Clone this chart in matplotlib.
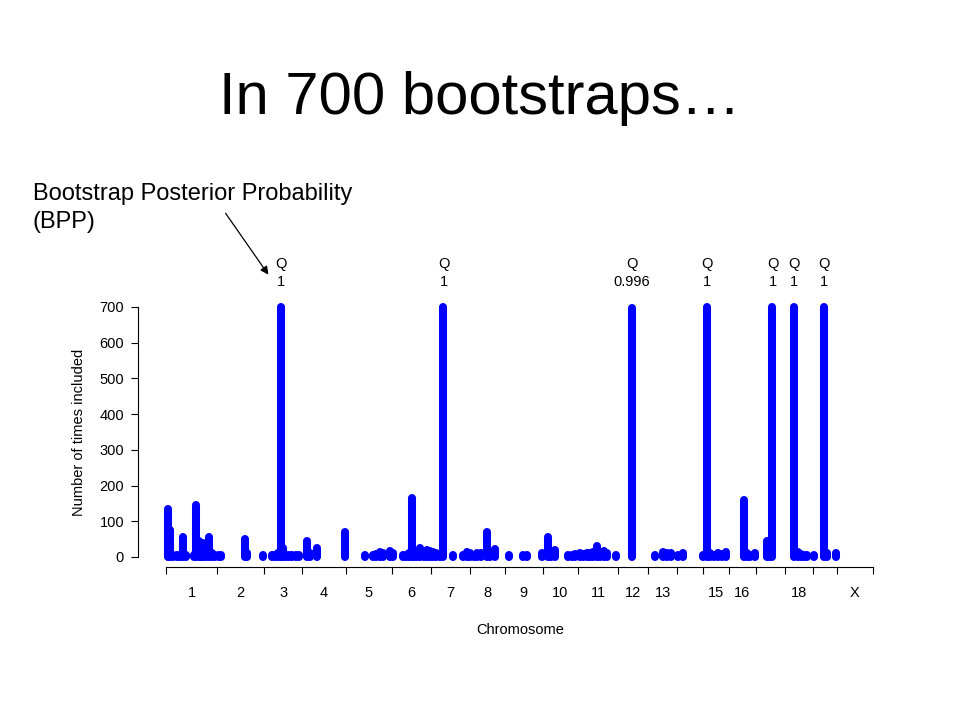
import numpy as np
import matplotlib
matplotlib.use('Agg')
import matplotlib.pyplot as plt

plt.rcParams['font.family'] = ['Liberation Sans', 'DejaVu Sans']

# chromosome lengths (cM) and labels
chrom_names = ['1', '2', '3', '4', '5', '6', '7', '8', '9', '10',
               '11', '12', '13', '14', '15', '16', '17', '18', '19', 'X']
chrom_len = [102, 93, 77, 86, 92, 79, 77, 70, 76, 70,
             81, 59, 58, 51, 53, 53, 58, 57, 47, 73]
# labels R dropped because they overlapped
hidden_labels = ['14', '17', '19']

# markers: chromosome index, position within chromosome (cM), times included
mk_chrom = [0] * 16 + [1] * 5 + [2] * 10 + [3] * 4 + [4] * 6 + [5] * 11 + [6] * 7 \
    + [7] * 7 + [8] * 4 + [9] * 6 + [10] * 10 + [11] + [12] * 4 + [13] * 2 \
    + [14] * 7 + [15] * 4 + [16] * 3 + [17] * 5 + [18] * 4
mk_pos = [2.6, 7.6, 12.6, 20.6, 26.6, 33.6, 38.6, 54.6, 60, 64.6, 68.6, 73.6, 78.6, 85.6, 90.6, 96.6,
          3.6, 7.6, 55.2, 59.6, 90.6,
          15.6, 21.6, 27.6, 34.6, 38.6, 43.6, 49.6, 55.6, 63.6, 69.6,
          8.6, 14.6, 28.6, 84.6,
          38.6, 54.6, 60.6, 68.6, 74.6, 88.6,
          2.6, 22.6, 28.6, 34.6, 40, 44.6, 50.6, 56.6, 64.6, 70.6, 76.6,
          3.6, 9.6, 17.6, 24.6, 42.6, 63.6, 71.6,
          0.6, 8.6, 14.6, 22.6, 34, 40.6, 50.6,
          8.6, 36.6, 44.6, 74,
          11.2, 16.6, 24.6, 50.6, 58.6, 64.6,
          4.6, 10.6, 18.6, 24.6, 30.6, 38, 44.6, 52.6, 58.6, 76,
          27,
          14.6, 30.6, 38.6, 46.6,
          2.6, 12.6,
          1.6, 9, 15.6, 23.6, 31.6, 39.6, 47.6,
          29.6, 36.6, 42.6, 52.6,
          23, 27.6, 33.6,
          18.2, 25.6, 31.6, 37.6, 43.6,
          1.6, 21.2, 26.6, 44.6]
mk_count = [135, 75, 5, 5, 5, 55, 5, 5, 145, 45, 10, 40, 20, 55, 10, 5,
            5, 5, 50, 10, 5,
            5, 5, 10, 700, 25, 5, 5, 5, 5, 5,
            45, 10, 25, 70,
            5, 5, 8, 15, 10, 18,
            12, 5, 5, 10, 165, 10, 15, 25, 10, 20, 18,
            15, 10, 5, 700, 5, 5, 15,
            10, 5, 12, 10, 70, 10, 22,
            5, 5, 5, 10,
            55, 10, 20, 5, 5, 8,
            10, 8, 12, 10, 15, 30, 15, 18, 10, 5,
            697,
            5, 15, 12, 10,
            5, 10,
            5, 700, 10, 5, 10, 8, 15,
            160, 10, 5, 12,
            45, 20, 700,
            700, 15, 8, 5, 5,
            5, 700, 10, 10]

n_boot = 700

starts = np.concatenate([[0], np.cumsum(chrom_len)[:-1]])
ends = np.cumsum(chrom_len)
total = ends[-1]
gpos = np.array([starts[c] + p for c, p in zip(mk_chrom, mk_pos)])
counts = np.array(mk_count)

fig = plt.figure(figsize=(9.6, 7.2), dpi=100)
ax = fig.add_axes([138 / 960, 153 / 720, (901.6 - 138) / 960, 270 / 720])

ax.vlines(gpos, 0, counts, color='#0000FF', lw=5.8, capstyle='round')

ax.set_xlim(-0.04 * total, 1.04 * total)
ax.set_ylim(-0.04 * n_boot, 1.04 * n_boot)

for s in ['top', 'right']:
    ax.spines[s].set_visible(False)
ax.spines['left'].set_bounds(0, 700)
ax.spines['bottom'].set_bounds(0, total)

ax.set_yticks(np.arange(0, 701, 100))
ax.tick_params(axis='y', labelsize=10.5, length=5, pad=5)
ax.set_xticks(np.concatenate([[0], ends]))
ax.set_xticklabels([])
ax.tick_params(axis='x', length=5)

# chromosome names centred under each chromosome
mids = (starts + ends) / 2
for m, name in zip(mids, chrom_names):
    if name in hidden_labels:
        continue
    ax.text(m, -101, name, ha='center', va='center', fontsize=10.5, clip_on=False)

ax.set_ylabel('Number of times included', fontsize=10.5, labelpad=10)
ax.set_xlabel('Chromosome', fontsize=10.5, labelpad=32)

# QTL annotations (BPP)
for x, c in zip(gpos, counts):
    if c >= 0.99 * n_boot:
        bpp = round(c / n_boot, 3)
        ax.text(x, 820, 'Q', ha='center', va='center', fontsize=10.5, clip_on=False)
        ax.text(x, 770, '{:g}'.format(bpp), ha='center', va='center', fontsize=10.5, clip_on=False)

fig.text(0.5, 1 - 114 / 720, 'In 700 bootstraps\u2026', ha='center', va='baseline', fontsize=43)
fig.text(33 / 960, 1 - 208 / 720, 'Bootstrap Posterior Probability\n(BPP)', ha='left', va='center',
         fontsize=17, linespacing=1.35)
ax.annotate('', xy=(270 / 960, 1 - 277 / 720), xytext=(224 / 960, 1 - 211 / 720),
            xycoords='figure fraction', textcoords='figure fraction',
            arrowprops=dict(arrowstyle='-|>', color='black', lw=0.9, mutation_scale=12))

fig.savefig('out.png', dpi=100)
